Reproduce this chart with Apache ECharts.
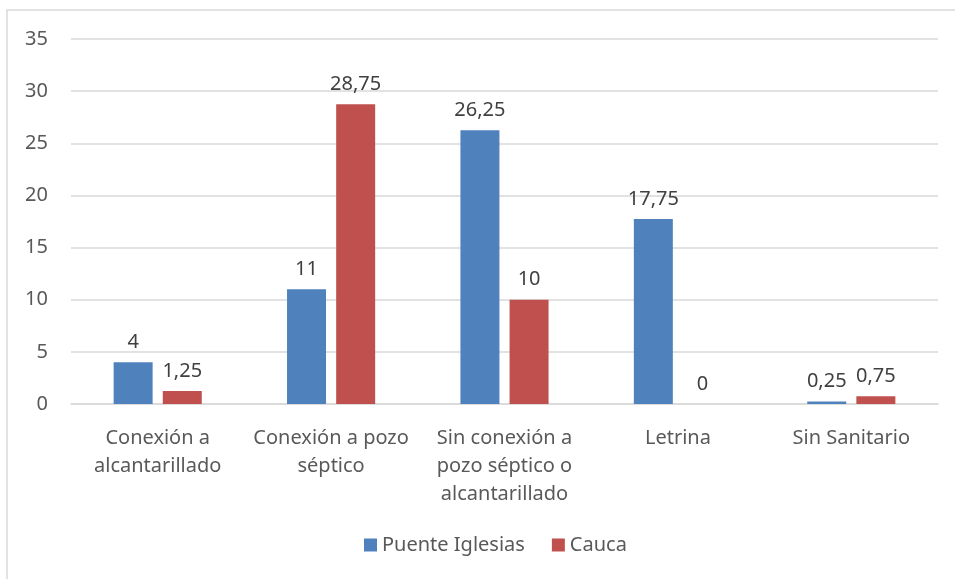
<!DOCTYPE html>
<html>
<head>
<meta charset="utf-8">
<script src="https://cdn.jsdelivr.net/npm/echarts@6/dist/echarts.min.js"></script>
<style>
  html, body { margin: 0; padding: 0; background: #fff; }
  #chart { width: 955px; height: 579px; }
</style>
</head>
<body>
<div id="chart"></div>
<script>
var categories = ['Conexión a\nalcantarillado', 'Conexión a pozo\nséptico', 'Sin conexión a\npozo séptico o\nalcantarillado', 'Letrina', 'Sin Sanitario'];
var puenteIglesias = [4, 11, 26.25, 17.75, 0.25];
var cauca = [1.25, 28.75, 10, 0, 0.75];
var seriesNames = ['Puente Iglesias', 'Cauca'];

var font = 'Noto Sans';
var txt = '#595959';

function fmt(p) {
    return String(p.value).replace('.', ',');
}

var myChart = echarts.init(document.getElementById('chart'));

var option = {
    backgroundColor: '#fff',
    animation: false,
    textStyle: { fontFamily: font },
    graphic: [{
        type: 'rect',
        shape: { x: 7, y: 10, width: 1000, height: 700 },
        style: { fill: 'none', stroke: '#d9d9d9', lineWidth: 1.5 },
        silent: true
    }],
    grid: { left: 71, right: 17, top: 39, bottom: 175 },
    legend: {
        bottom: 19,
        left: 359,
        itemWidth: 13,
        itemHeight: 13,
        itemGap: 27,
        icon: 'rect',
        textStyle: { color: txt, fontSize: 20, fontFamily: font },
        data: seriesNames
    },
    xAxis: {
        type: 'category',
        data: categories,
        axisLine: { lineStyle: { color: '#d9d9d9', width: 1.5 } },
        axisTick: { show: false },
        axisLabel: { color: txt, fontSize: 20, lineHeight: 28, margin: 20, interval: 0, fontFamily: font }
    },
    yAxis: {
        type: 'value',
        min: 0,
        max: 35,
        interval: 5,
        axisLine: { show: false },
        axisTick: { show: false },
        splitLine: { lineStyle: { color: '#d9d9d9', width: 1.5 } },
        axisLabel: { color: txt, fontSize: 20, margin: 23, fontFamily: font }
    },
    series: [{
        name: seriesNames[0],
        type: 'bar',
        data: puenteIglesias,
        barWidth: 39,
        barGap: '26%',
        itemStyle: { color: '#4f81bd' },
        label: { show: true, position: 'top', distance: 10, color: '#404040', fontSize: 20, formatter: fmt }
    }, {
        name: seriesNames[1],
        type: 'bar',
        data: cauca,
        barWidth: 39,
        itemStyle: { color: '#c0504d' },
        label: { show: true, position: 'top', distance: 10, color: '#404040', fontSize: 20, formatter: fmt }
    }]
};

myChart.setOption(option);
</script>
</body>
</html>
